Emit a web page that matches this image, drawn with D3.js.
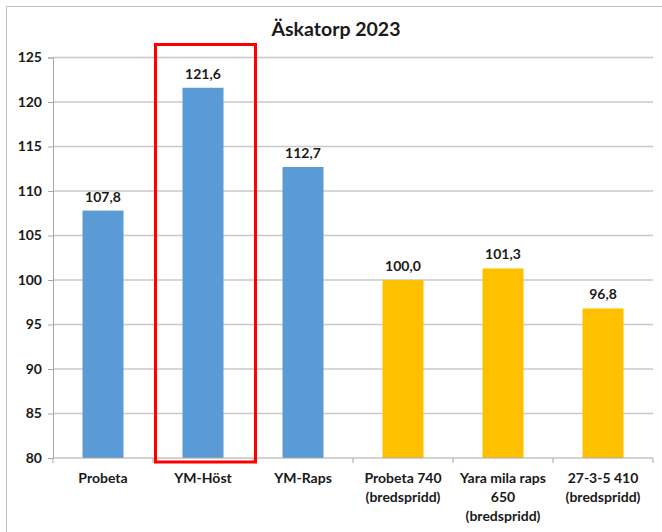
<!DOCTYPE html>
<html>
<head>
<meta charset="utf-8">
<script src="https://cdn.jsdelivr.net/npm/d3@7"></script>
<style>
  body { margin: 0; background: #fff; }
  text { font-family: Lato, "Open Sans", sans-serif; }
</style>
</head>
<body>
<svg id="chart" width="662" height="532"></svg>
<script>
const title = 'Äskatorp 2023';
const categories = [
  ['Probeta'],
  ['YM-Höst'],
  ['YM-Raps'],
  ['Probeta 740', '(bredspridd)'],
  ['Yara mila raps', '650', '(bredspridd)'],
  ['27-3-5 410', '(bredspridd)']
];
const values = [107.8, 121.6, 112.7, 100.0, 101.3, 96.8];
const groups = ['blue', 'blue', 'blue', 'gold', 'gold', 'gold'];
const yTicks = [80, 85, 90, 95, 100, 105, 110, 115, 120, 125];
const highlighted = 1;

const colors = { blue: '#5B9BD5', gold: '#FFC000' };
const svg = d3.select('#chart');
const margin = { left: 53, right: 9, top: 57.5, bottom: 74 };
const width = 662, height = 532;

const x = d3.scaleBand()
    .domain(d3.range(categories.length))
    .range([margin.left, width - margin.right])
    .paddingInner(0.59)
    .paddingOuter(0.295);
const y = d3.scaleLinear().domain([80, 125]).range([height - margin.bottom, margin.top]);

// chart border
svg.append('rect')
    .attr('x', 6.5).attr('y', 6.5)
    .attr('width', 670).attr('height', 540)
    .attr('fill', 'none')
    .attr('stroke', '#bfbfbf');

svg.append('text')
    .attr('x', 336).attr('y', 36)
    .attr('text-anchor', 'middle')
    .style('font-size', '19.5px')
    .style('font-weight', 'bold')
    .style('fill', '#1a1a1a')
    .text(title);

// gridlines
svg.append('g')
    .selectAll('line')
    .data(yTicks.slice(1))
    .enter()
    .append('line')
    .attr('x1', margin.left).attr('x2', width - margin.right)
    .attr('y1', d => y(d)).attr('y2', d => y(d))
    .style('stroke', '#c8c8c8')
    .style('stroke-width', 1.3);

const yAxis = svg.append('g')
    .attr('transform', `translate(${margin.left},0)`)
    .call(d3.axisLeft(y).tickValues(yTicks).tickSize(5).tickPadding(6));
yAxis.select('.domain').style('stroke', '#a6a6a6');
yAxis.selectAll('.tick line').style('stroke', '#a6a6a6');
yAxis.selectAll('.tick text')
    .style('font-size', '14px')
    .style('font-weight', 'bold')
    .style('fill', '#1a1a1a')
    .style('font-family', 'Lato, sans-serif');

// bars
svg.append('g')
    .selectAll('rect')
    .data(values)
    .enter()
    .append('rect')
    .attr('x', (d, i) => x(i))
    .attr('y', d => y(d))
    .attr('width', x.bandwidth())
    .attr('height', d => y(80) - y(d))
    .style('fill', (d, i) => colors[groups[i]]);

// value labels
svg.append('g')
    .selectAll('text')
    .data(values)
    .enter()
    .append('text')
    .attr('x', (d, i) => x(i) + x.bandwidth() / 2)
    .attr('y', d => y(d) - 9)
    .attr('text-anchor', 'middle')
    .style('font-size', '14px')
    .style('font-weight', 'bold')
    .style('fill', '#1a1a1a')
    .text(d => d.toFixed(1).replace('.', ','));

// x axis
const step = x.step();
const xAxisG = svg.append('g');
xAxisG.append('line')
    .attr('x1', margin.left).attr('x2', width - margin.right)
    .attr('y1', y(80)).attr('y2', y(80))
    .style('stroke', '#a6a6a6');
xAxisG.selectAll('.xtick')
    .data(d3.range(categories.length + 1))
    .enter()
    .append('line')
    .attr('x1', i => margin.left + i * (width - margin.left - margin.right) / categories.length)
    .attr('x2', i => margin.left + i * (width - margin.left - margin.right) / categories.length)
    .attr('y1', y(80)).attr('y2', y(80) + 5)
    .style('stroke', '#a6a6a6');

const catLabels = xAxisG.selectAll('.cat')
    .data(categories)
    .enter()
    .append('text')
    .attr('text-anchor', 'middle')
    .style('font-size', '14px')
    .style('font-weight', 'bold')
    .style('fill', '#1a1a1a');
catLabels.each(function (lines, i) {
    d3.select(this).selectAll('tspan')
        .data(lines)
        .enter()
        .append('tspan')
        .attr('x', x(i) + x.bandwidth() / 2)
        .attr('y', (l, j) => y(80) + 25 + j * 19)
        .text(l => l);
});

// highlight box
svg.append('rect')
    .attr('x', x(highlighted) - step * 0.475 + x.bandwidth() / 2)
    .attr('y', 44.5)
    .attr('width', step)
    .attr('height', y(80) + 4 - 44.5)
    .attr('fill', 'none')
    .attr('stroke', '#ff0000')
    .attr('stroke-width', 3);
</script>
</body>
</html>
